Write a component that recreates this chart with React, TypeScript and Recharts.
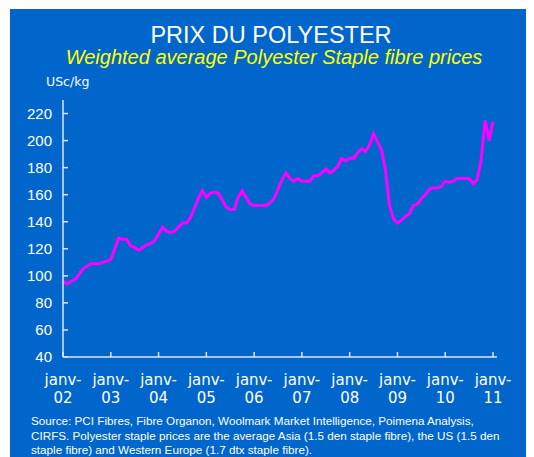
import { Line, LineChart, XAxis, YAxis } from "recharts";

// monthly, janv-02 .. janv-11 (month index 0..108)
const prices = [
  96, 94, 96, 97, 101, 105, 107, 109, 109, 109, 110, 111,
  112, 120, 128, 127, 127, 122, 121, 119, 121, 123, 124, 126,
  131, 136, 133, 132, 133, 136, 139, 139, 143, 150, 157, 163,
  158, 161, 162, 161, 156, 151, 149, 149, 158, 163, 158, 153,
  152, 152, 152, 152, 154, 157, 164, 171, 176, 172, 170, 172,
  170, 170, 170, 174, 174, 176, 179, 176, 178, 181, 187, 185,
  187, 187, 191, 194, 192, 197, 205, 199, 193, 178, 152, 142,
  139, 141, 144, 146, 152, 153, 157, 160, 164, 165, 165, 166,
  170, 169, 170, 172, 172, 172, 172, 168, 171, 185, 215, 200,
  214,
];

const yearLabels = ["02", "03", "04", "05", "06", "07", "08", "09", "10", "11"];
const xTicks = yearLabels.map((_, i) => i * 12);
const yTicks = [40, 60, 80, 100, 120, 140, 160, 180, 200, 220];

const data = prices.map((v, i) => ({ month: i, price: v }));

const BLUE = "#0066CC";
const AXIS = "#e4e4e4";

function YearTick(props: any) {
  const { x, y, payload } = props;
  const year = yearLabels[Math.round(payload.value / 12)];
  return (
    <text
      x={x}
      y={y}
      textAnchor="middle"
      fill="#ffffff"
      fontFamily="DejaVu Sans"
      fontSize={15}
    >
      <tspan x={x} dy={28}>janv-</tspan>
      <tspan x={x} dy={18}>{year}</tspan>
    </text>
  );
}

export default function App() {
  return (
    <div
      style={{
        position: "relative",
        marginLeft: 2,
        marginTop: 1,
        width: 524,
        height: 448,
        background: BLUE,
        overflow: "hidden",
      }}
    >
      <div
        style={{
          position: "absolute",
          left: 0,
          width: 522,
          top: 13,
          textAlign: "center",
          color: "#ffffff",
          fontFamily: "Liberation Sans, Arial, sans-serif",
          fontSize: 23.5,
          lineHeight: "26px",
        }}
      >
        PRIX DU POLYESTER
      </div>
      <div
        style={{
          position: "absolute",
          left: 0,
          width: 528,
          top: 37,
          textAlign: "center",
          color: "#ffff00",
          fontStyle: "italic",
          fontFamily: "Liberation Sans, Arial, sans-serif",
          fontSize: 20,
          lineHeight: "22px",
        }}
      >
        Weighted average Polyester Staple fibre prices
      </div>
      <div
        style={{
          position: "absolute",
          left: 36,
          top: 65,
          color: "#ffffff",
          fontFamily: "DejaVu Sans",
          fontSize: 12.5,
          lineHeight: "16px",
        }}
      >
        USc/kg
      </div>

      <div style={{ position: "absolute", left: 0, top: 0 }}>
        <LineChart
          width={524}
          height={448}
          data={data}
          margin={{ top: 91, right: 37, bottom: 60, left: 13 }}
        >
          <XAxis
            dataKey="month"
            type="number"
            domain={[0, 109]}
            ticks={xTicks}
            interval={0}
            height={40}
            tickSize={-5}
            tickMargin={5}
            stroke={AXIS}
            strokeWidth={1.5}
            tick={<YearTick />}
          />
          <YAxis
            type="number"
            domain={[40, 230]}
            ticks={yTicks}
            interval={0}
            width={40}
            tickSize={-5}
            tickMargin={16}
            stroke={AXIS}
            strokeWidth={1.5}
            tick={{ fill: "#ffffff", fontSize: 15, fontFamily: "Liberation Sans, Arial, sans-serif" }}
          />
          <Line
            type="linear"
            dataKey="price"
            stroke="#ff00ff"
            strokeWidth={3}
            dot={false}
            isAnimationActive={false}
          />
        </LineChart>
      </div>

      <div
        style={{
          position: "absolute",
          left: 21,
          top: 405,
          width: 510,
          color: "#ffffff",
          fontFamily: "Liberation Sans, Arial, sans-serif",
          fontSize: 11.7,
          lineHeight: "14.5px",
        }}
      >
        Source: PCI Fibres, Fibre Organon, Woolmark Market Intelligence, Poimena Analysis,
        <br />
        CIRFS. Polyester staple prices are the average Asia (1.5 den staple fibre), the US (1.5 den
        <br />
        staple fibre) and Western Europe (1.7 dtx staple fibre).
      </div>
    </div>
  );
}
